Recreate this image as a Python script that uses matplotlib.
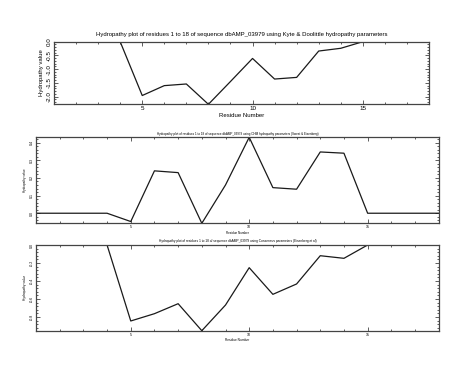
import matplotlib

matplotlib.use("Agg")
import matplotlib.pyplot as plt
from matplotlib.ticker import MultipleLocator, AutoMinorLocator

plt.rcParams["font.family"] = ["Liberation Sans", "DejaVu Sans"]
plt.rcParams["axes.unicode_minus"] = False

residues = list(range(1, 19))
# windowed hydropathy values
kyte_doolittle = [0.0, 0.0, 0.0, 0.0, -1.96, -1.60, -1.54, -2.28, -1.45,
                  -0.61, -1.36, -1.30, -0.34, -0.24, 0.0, 0.0, 0.0, 0.0]
ohm = [0.0, 0.0, 0.0, 0.0, -0.047, 0.24, 0.23, -0.057, 0.16,
       0.43, 0.145, 0.136, 0.347, 0.34, 0.0, 0.0, 0.0, 0.0]
consensus = [0.0, 0.0, 0.0, 0.0, -0.844, -0.763, -0.652, -0.952, -0.667,
             -0.252, -0.548, -0.433, -0.119, -0.148, 0.0, 0.0, 0.0, 0.0]

title_base = "Hydropathy plot of residues 1 to 18 of sequence dbAMP_03979 using "
panels = [
    (kyte_doolittle, "Kyte & Doolittle hydropathy parameters",
     [54 / 474, 1 - 104.3 / 366, 375 / 474, 62.6 / 366], 0.5, 4.35, 4.5),
    (ohm, "OHM hydropathy parameters (Sweet & Eisenberg)",
     [36 / 474, 1 - 223.3 / 366, 402.7 / 474, 86 / 366], 0.1, 2.2, 2.6),
    (consensus, "Consensus parameters (Eisenberg et al)",
     [36 / 474, 1 - 330.7 / 366, 402.7 / 474, 85.7 / 366], 0.2, 2.3, 2.6),
]

fig = plt.figure(figsize=(4.74, 3.66), dpi=100)

for values, scale, rect, ystep, fs, tickfs in panels:
    ax = fig.add_axes(rect)
    ax.plot(residues, values, color="#1a1a1a", linewidth=0.9)
    ax.set_xlim(1, 18)
    ax.set_ylim(min(values), max(values))
    ax.xaxis.set_major_locator(MultipleLocator(5))
    ax.xaxis.set_minor_locator(MultipleLocator(1))
    ax.yaxis.set_major_locator(MultipleLocator(ystep))
    ax.yaxis.set_minor_locator(AutoMinorLocator(5))
    ax.yaxis.set_major_formatter("{x:.1f}")
    ax.tick_params(which="both", direction="in", top=True, right=True,
                   labelsize=tickfs, pad=1.5, width=0.6, color="#444444")
    ax.tick_params(which="major", length=3)
    ax.tick_params(which="minor", length=1.5)
    ax.tick_params(axis="y", labelrotation=90)
    for lbl in ax.get_yticklabels():
        lbl.set_va("center")
    for s in ax.spines.values():
        s.set_linewidth(0.9)
        s.set_color("#444444")
    ax.set_title(title_base + scale, fontsize=fs, pad=4 if fs > 4 else 2)
    ax.set_xlabel("Residue Number", fontsize=fs, labelpad=1)
    ax.set_ylabel("Hydropathy value", fontsize=fs, labelpad=2)

fig.savefig("out.png", dpi=100)
